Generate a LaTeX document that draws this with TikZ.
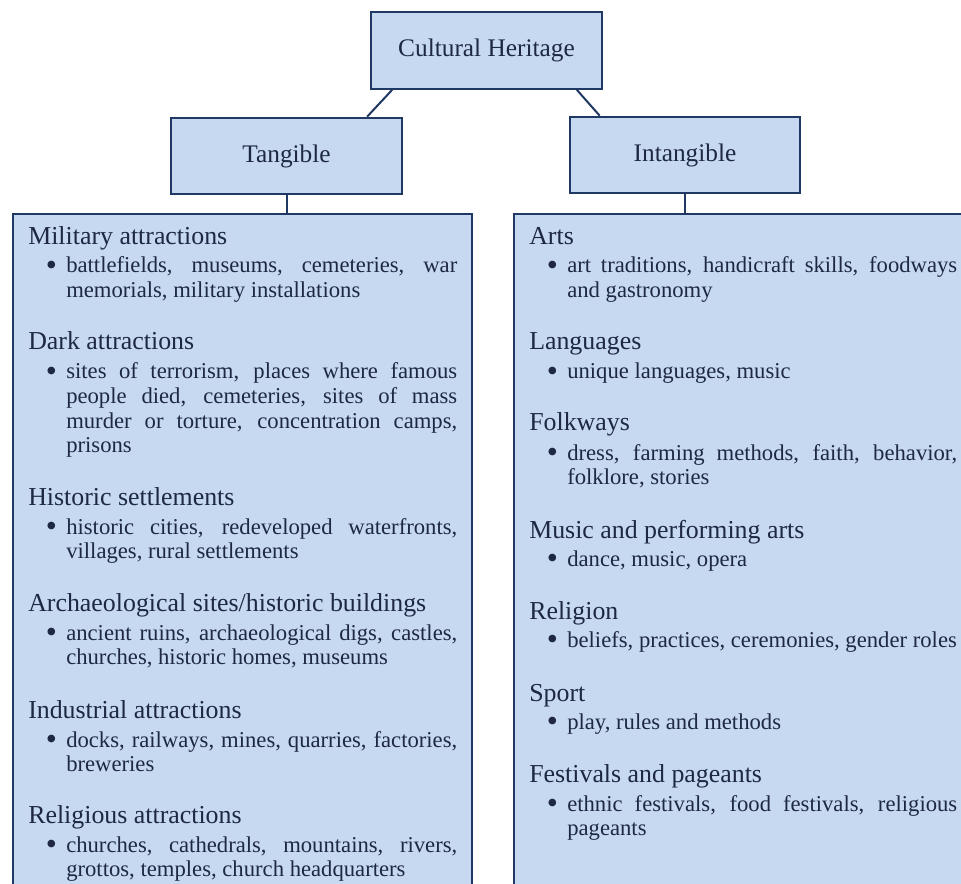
\documentclass[tikz,border=0pt]{standalone}
\usepackage{graphicx}
\usepackage{fontspec}
\setmainfont{Liberation Serif}
\definecolor{boxfill}{RGB}{198,217,241}
\definecolor{boxline}{RGB}{31,56,100}
\definecolor{txt}{RGB}{30,40,65}
\newcommand{\itm}{\llap{\raisebox{-2pt}{\scalebox{1.4}{\textbullet}}\hspace{7pt}}}
\tolerance=10000
\hbadness=10000
\begin{document}
\begin{tikzpicture}[x=0.75pt,y=-0.75pt]
\tikzstyle{box}=[draw=boxline,line width=1.5pt,fill=boxfill,rectangle,text=txt]
\tikzstyle{topbox}=[box,minimum width=173pt,minimum height=57.5pt,font=\fontsize{19}{22}\selectfont]
\tikzstyle{hdr}=[anchor=base west,inner sep=0pt,text=txt,font=\fontsize{19.4}{22}\selectfont]
\tikzstyle{lst}=[anchor=base west,inner sep=0pt,text=txt,align=justify,font=\fontsize{17}{18.4}\selectfont]
\tikzstyle{link}=[draw=boxline,line width=1.5pt]
\useasboundingbox (0,0) rectangle (961,884);
\clip (0,0) rectangle (961,884);
% top of the tree
\node[topbox](ch) at (486.5,50.5) {Cultural Heritage};
\node[topbox](tan) at (286.5,156) {Tangible};
\node[topbox](intg) at (685,155) {Intangible};
\draw[link] ([xshift=16.5pt]ch.south west) -- ([xshift=147.75pt]tan.north west);
\draw[link] ([xshift=-19.5pt]ch.south east) -- ([xshift=23.25pt]intg.north west);
% the two lists
\node[box,anchor=north west,minimum width=344.25pt,minimum height=525pt](lbox) at (12,213) {};
\node[box,anchor=north west,minimum width=352.5pt,minimum height=525pt](rbox) at (513,213) {};
\draw[link] (tan.south) -- (tan.south |- lbox.north);
\draw[link] (intg.south) -- (intg.south |- rbox.north);
% tangible
\node[hdr](lh1) at (28,245) {Military attractions};
\node[lst,text width=293.25pt](li1) at (66,273) {\itm battlefields, museums, cemeteries, war \linebreak memorials, military installations};
\node[hdr](lh2) at (28,350) {Dark attractions};
\node[lst,text width=293.25pt](li2) at (66,379) {\itm sites of terrorism, places where famous \linebreak people died, cemeteries, sites of mass \linebreak murder or torture, concentration camps, \linebreak prisons};
\node[hdr](lh3) at (28,505) {Historic settlements};
\node[lst,text width=293.25pt](li3) at (66,534) {\itm historic cities, redeveloped waterfronts, \linebreak villages, rural settlements};
\node[hdr](lh4) at (28,611) {Archaeological sites/historic buildings};
\node[lst,text width=293.25pt](li4) at (66,640) {\itm ancient ruins, archaeological digs, castles, \linebreak churches, historic homes, museums};
\node[hdr](lh5) at (28,718) {Industrial attractions};
\node[lst,text width=293.25pt](li5) at (66,747) {\itm docks, railways, mines, quarries, factories, \linebreak breweries};
\node[hdr](lh6) at (28,823) {Religious attractions};
\node[lst,text width=293.25pt](li6) at (66,852) {\itm churches, cathedrals, mountains, rivers, \linebreak grottos, temples, church headquarters};
% intangible
\node[hdr](rh1) at (529,245) {Arts};
\node[lst,text width=292.5pt](ri1) at (567,273) {\itm art traditions, handicraft skills, foodways \linebreak and gastronomy};
\node[hdr](rh2) at (529,350) {Languages};
\node[lst,text width=292.5pt](ri2) at (567,379) {\itm unique languages, music};
\node[hdr](rh3) at (529,431) {Folkways};
\node[lst,text width=292.5pt](ri3) at (567,460) {\itm dress, farming methods, faith, behavior, \linebreak folklore, stories};
\node[hdr](rh4) at (529,538) {Music and performing arts};
\node[lst,text width=292.5pt](ri4) at (567,566) {\itm dance, music, opera};
\node[hdr](rh5) at (529,619) {Religion};
\node[lst,text width=292.5pt](ri5) at (567,647) {\itm beliefs, practices, ceremonies, gender roles};
\node[hdr](rh6) at (529,701) {Sport};
\node[lst,text width=292.5pt](ri6) at (567,729) {\itm play, rules and methods};
\node[hdr](rh7) at (529,782) {Festivals and pageants};
\node[lst,text width=292.5pt](ri7) at (567,811) {\itm ethnic festivals, food festivals, religious \linebreak pageants};
\end{tikzpicture}
\end{document}
